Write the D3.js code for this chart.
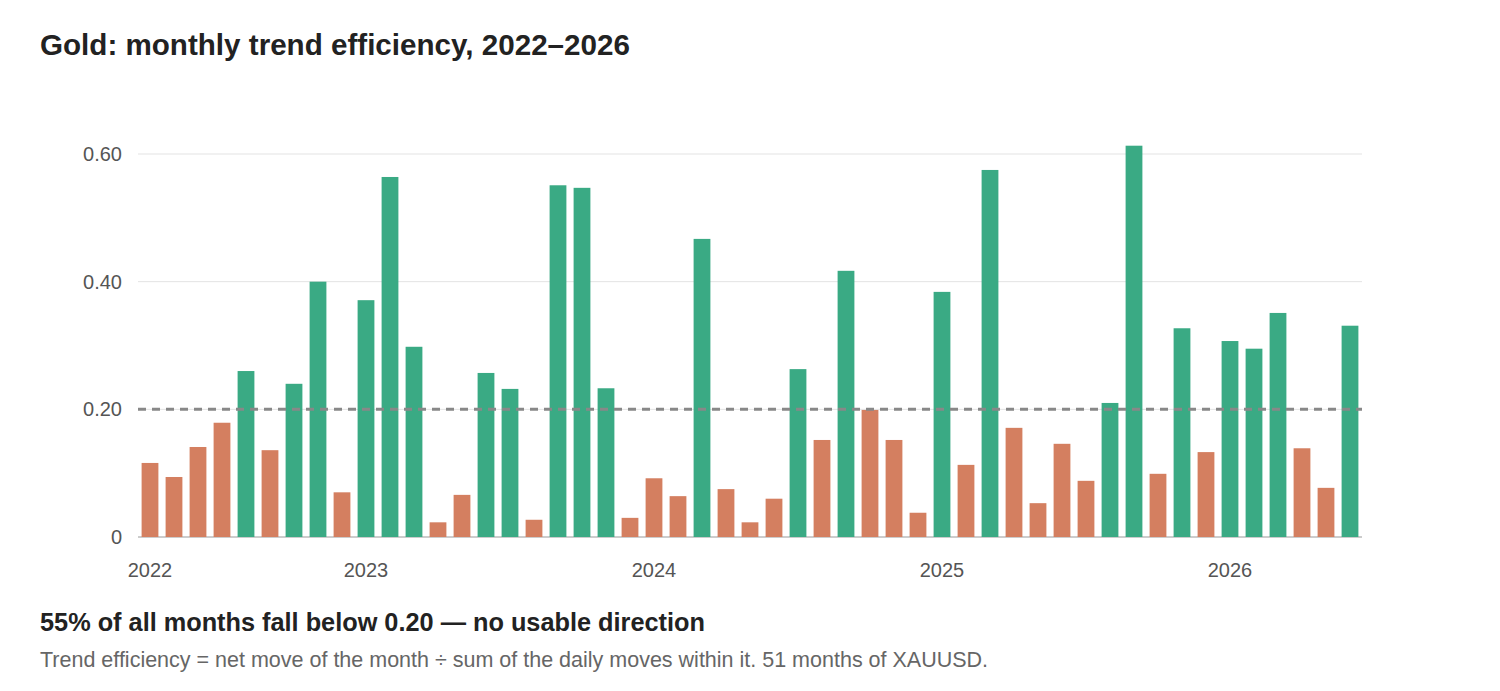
<!DOCTYPE html>
<html><head><meta charset="utf-8">
<script src="https://cdn.jsdelivr.net/npm/d3@7"></script>
<style>body{margin:0;background:#fff;font-family:"Liberation Sans",Arial,sans-serif}</style>
</head><body>
<svg id="c" width="1500" height="691"></svg>
<script>
const startYear = 2022, startMonth = 4;
const values = [0.116,0.094,0.141,0.179,0.26,0.136,0.24,0.40,0.07,0.371,0.564,0.298,0.023,0.066,0.257,0.232,0.027,0.551,0.547,0.233,0.03,0.092,0.064,0.467,0.075,0.023,0.06,0.263,0.152,0.417,0.199,0.152,0.038,0.384,0.113,0.575,0.171,0.053,0.146,0.088,0.21,0.613,0.099,0.327,0.133,0.307,0.295,0.351,0.139,0.077,0.331];
const yTicks = [0,0.2,0.4,0.6];
const threshold = 0.2;
const months = values.map((v,i)=>{const m=startMonth-1+i;return {y:startYear+Math.floor(m/12),m:m%12,v};});
const svg = d3.select("#c");
const x = d3.scaleBand().domain(d3.range(values.length)).range([138,1362]).paddingInner(0.3).paddingOuter(0.15);
const y = d3.scaleLinear().domain([0,0.6]).range([537,154]);
svg.append("text").attr("x",40).attr("y",55).attr("font-size",29.6).attr("font-weight","bold").attr("fill","#222").text("Gold: monthly trend efficiency, 2022–2026");
svg.append("g").selectAll("line").data(yTicks).join("line").attr("x1",138).attr("x2",1362).attr("y1",d=>y(d)).attr("y2",d=>y(d)).attr("stroke",d=>d===0?"#bbb":"#e3e3e3").attr("stroke-width",d=>d===0?1.5:1);
svg.append("g").selectAll("text").data(yTicks).join("text").attr("x",122).attr("y",d=>y(d)+7).attr("text-anchor","end").attr("font-size",20).attr("fill","#555").text(d=>d===0?"0":d.toFixed(2));
svg.append("g").selectAll("rect").data(months).join("rect").attr("x",(d,i)=>x(i)).attr("width",x.bandwidth()).attr("y",d=>y(d.v)).attr("height",d=>y(0)-y(d.v)).attr("fill",d=>d.v>=threshold?"#3aaa84":"#d47f60");
svg.append("line").attr("x1",138).attr("x2",1362).attr("y1",y(threshold)).attr("y2",y(threshold)).attr("stroke","#888").attr("stroke-width",3).attr("stroke-dasharray","8,6");
const tks = months.map((d,i)=>({d,i})).filter(o=>o.i===0||o.d.m===0);
svg.append("g").selectAll("text").data(tks).join("text").attr("x",o=>x(o.i)+x.bandwidth()/2).attr("y",577).attr("text-anchor","middle").attr("font-size",20).attr("fill","#555").text(o=>o.d.y);
svg.append("text").attr("x",40).attr("y",631).attr("font-size",25.3).attr("font-weight","bold").attr("fill","#222").text("55% of all months fall below 0.20 — no usable direction");
svg.append("text").attr("x",40).attr("y",667).attr("font-size",21.5).attr("fill","#666").text("Trend efficiency = net move of the month ÷ sum of the daily moves within it. 51 months of XAUUSD.");
</script></body></html>
